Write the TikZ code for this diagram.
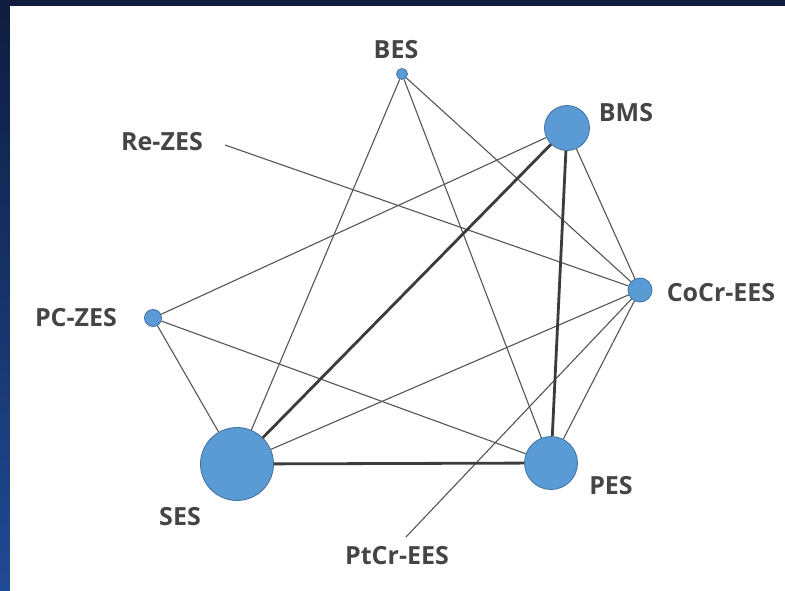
\documentclass[tikz,border=0pt]{standalone}
\usepackage{fontspec}
\setmainfont{Open Sans}
\definecolor{nodefill}{HTML}{5B9BD5}
\definecolor{nodeline}{HTML}{41719C}
\definecolor{edgecol}{HTML}{555555}
\definecolor{thickcol}{HTML}{3C3C3C}
\definecolor{labcol}{HTML}{454545}
\definecolor{bgtop}{HTML}{0F1C40}
\definecolor{bgbot}{HTML}{1F4B94}
\begin{document}
\begin{tikzpicture}[x=1pt,y=-1pt,
  trt/.style={circle,fill=nodefill,draw=nodeline,line width=0.8pt,inner sep=0pt},
  lab/.style={text=labcol,font=\fontsize{25}{25}\selectfont\bfseries,inner sep=0pt},
  thin edge/.style={draw=edgecol,line width=1.1pt},
  thick edge/.style={draw=thickcol,line width=2.8pt}]
\useasboundingbox (0,0) rectangle (785,591);
\shade[top color=bgtop,bottom color=bgbot] (0,0) rectangle (785,591);
\fill[white] (10,6) rectangle (785,591);
% treatment nodes
\node[trt,minimum size=11pt] (bes) at (402,74) {};
\node[trt,minimum size=45pt] (bms) at (567,128) {};
\node[trt,minimum size=24pt] (cocr) at (640,290) {};
\node[trt,minimum size=53pt] (pes) at (551,463) {};
\node[trt,minimum size=73pt] (ses) at (237,464) {};
\node[trt,minimum size=17pt] (pczes) at (153,318) {};
\coordinate (rezes) at (225,145);
\coordinate (ptcr) at (406,537);
% labels
\node[lab] (lbes) at (396,50) {BES};
\node[lab] (lbms) at (626,113) {BMS};
\node[lab] (lcocr) at (721,293) {CoCr-EES};
\node[lab] (lpes) at (611,486) {PES};
\node[lab] (lses) at (180,517) {SES};
\node[lab] (lpczes) at (76,318) {PC-ZES};
\node[lab] (lrezes) at (162,142) {Re-ZES};
\node[lab] (lptcr) at (397,556) {PtCr-EES};
% edges
\draw[thin edge] (bes) -- (ses);
\draw[thin edge] (bes) -- (pes);
\draw[thin edge] (bes) -- (cocr);
\draw[thin edge] (bms) -- (pczes);
\draw[thin edge] (bms) -- (cocr);
\draw[thin edge] (rezes) -- (cocr);
\draw[thin edge] (pczes) -- (ses);
\draw[thin edge] (pczes) -- (pes);
\draw[thin edge] (ses) -- (cocr);
\draw[thin edge] (pes) -- (cocr);
\draw[thin edge] (ptcr) -- (cocr);
\draw[thick edge] (bms) -- (ses);
\draw[thick edge] (bms) -- (pes);
\draw[thick edge] (ses) -- (pes);
\end{tikzpicture}
\end{document}
